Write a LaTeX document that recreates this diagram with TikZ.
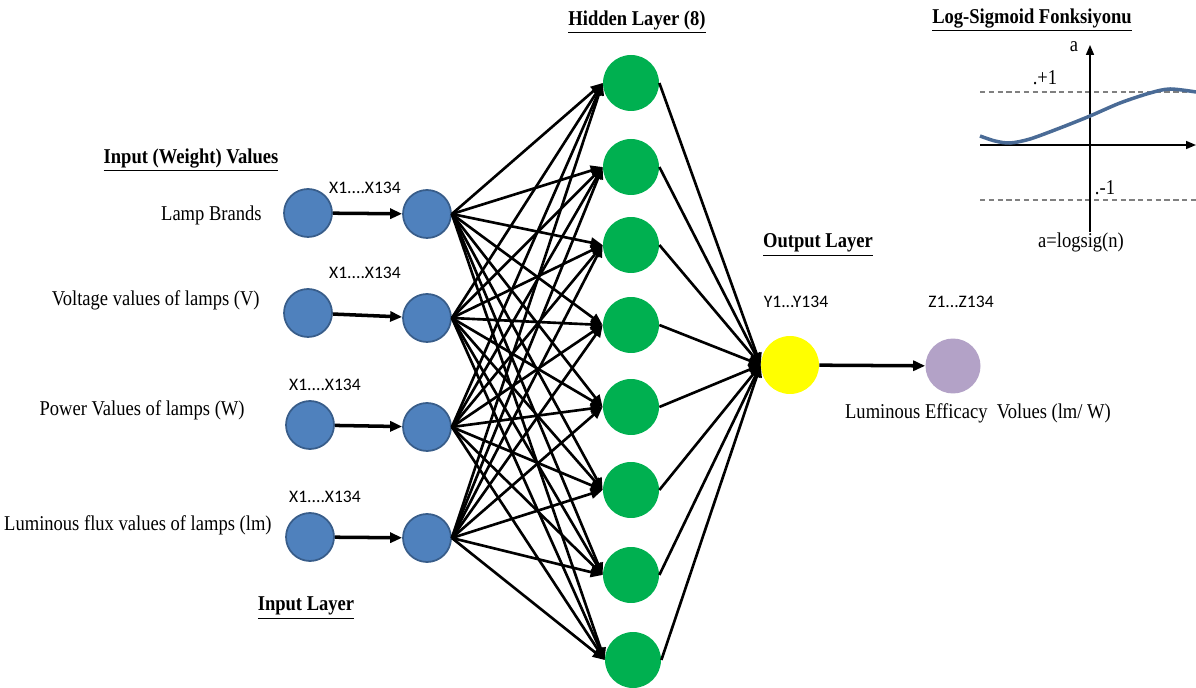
\documentclass[tikz,border=0pt]{standalone}
\usepackage{fontspec}
\setmainfont{Liberation Serif}[FakeStretch=0.88]
\newfontfamily\calib{Carlito}
\usetikzlibrary{arrows.meta}
\definecolor{inblue}{RGB}{79,129,189}
\definecolor{inrim}{RGB}{56,93,138}
\definecolor{hidgreen}{RGB}{0,176,80}
\definecolor{outyellow}{RGB}{255,255,0}
\definecolor{lilac}{RGB}{179,162,199}
\definecolor{curveblue}{RGB}{74,107,150}
\tikzset{
  innode/.style={circle, fill=inblue, draw=inrim, line width=1pt, minimum size=0.96cm, inner sep=0pt},
  hidnode/.style={circle, fill=hidgreen, minimum size=1.12cm, inner sep=0pt},
  link/.style={-{Triangle[length=0.24cm,width=0.2cm]}, line width=1.5pt},
  lbl/.style={font=\fontsize{12}{14}\selectfont},
  xlbl/.style={font=\calib\fontsize{10}{12}\selectfont},
  ttl/.style={font=\bfseries\fontsize{12}{14}\selectfont},
}
\begin{document}
\begin{tikzpicture}[x=0.02cm, y=-0.02cm]
\useasboundingbox (0,0) rectangle (1196,688);

% input columns
\node [innode] (a1) at (308,213) {};
\node [innode] (a2) at (308,313) {};
\node [innode] (a3) at (310,425) {};
\node [innode] (a4) at (310,537) {};
\node [innode] (b1) at (427,214) {};
\node [innode] (b2) at (427,318) {};
\node [innode] (b3) at (427,427) {};
\node [innode] (b4) at (427,538) {};

% hidden layer
\node [hidnode] (h1) at (631,83) {};
\node [hidnode] (h2) at (631,167) {};
\node [hidnode] (h3) at (631,245) {};
\node [hidnode] (h4) at (631,325) {};
\node [hidnode] (h5) at (631,407) {};
\node [hidnode] (h6) at (631,490) {};
\node [hidnode] (h7) at (631,575) {};
\node [hidnode] (h8) at (633,660) {};

% output
\node [circle, fill=outyellow, minimum size=1.16cm, inner sep=0pt] (y) at (790,365) {};
\node [circle, fill=lilac, minimum size=1.1cm, inner sep=0pt] (z) at (953,366) {};

\foreach \i in {1,...,4} {
  \draw [link, line width=2pt] (a\i) -- (b\i);
  \foreach \j in {1,...,8}
    \draw [link] (b\i.east) -- (h\j.west);
}
\foreach \j in {1,...,8}
  \draw [link] (h\j.east) -- (y.west);
\draw [link, line width=2pt] (y) -- (z);

% labels
\node [ttl] (t1) at (191,160) {\underline{Input (Weight) Values}};
\node [lbl, anchor=east, inner sep=0pt] (l1) at (262,215) {Lamp Brands};
\node [lbl, anchor=east, inner sep=0pt] (l2) at (260,300) {Voltage values of lamps (V)};
\node [lbl, anchor=east, inner sep=0pt] (l3) at (245,410) {Power Values of lamps (W)};
\node [lbl, anchor=east, inner sep=0pt] (l4) at (272,525) {Luminous flux values of lamps (lm)};
\node [ttl] (t2) at (306,608) {\underline{Input Layer}};
\node [xlbl] (x1) at (365,188) {X1....X134};
\node [xlbl] (x2) at (365,273) {X1....X134};
\node [xlbl] (x3) at (325,385) {X1....X134};
\node [xlbl] (x4) at (325,497) {X1....X134};
\node [ttl] (t3) at (637,22) {\underline{Hidden Layer (8)}};
\node [ttl] (t4) at (818,245) {\underline{Output Layer}};
\node [xlbl] (y1) at (796,302) {Y1...Y134};
\node [xlbl] (z1) at (961,302) {Z1...Z134};
\node [lbl] (l5) at (978,413) {Luminous Efficacy\ \ Volues (lm/ W)};

% log-sigmoid inset
\node [ttl] (t5) at (1032,20) {\underline{Log-Sigmoid Fonksiyonu}};
\draw [densely dashed, gray, line width=0.6pt] (980,92) -- (1196,92);
\draw [densely dashed, gray, line width=0.6pt] (980,200) -- (1196,200);
\draw [-{Triangle[length=0.2cm,width=0.16cm]}, line width=0.9pt] (980,145) -- (1196,145);
\draw [-{Triangle[length=0.2cm,width=0.16cm]}, line width=0.9pt] (1090,232) -- (1090,45);
\draw [curveblue, line width=2pt] plot [smooth] coordinates {(980,136) (995,141) (1010,143) (1030,139) (1060,128) (1090,116) (1120,103) (1150,93) (1170,89) (1196,92)};
\node [lbl] (s1) at (1074,47) {a};
\node [lbl] (s2) at (1045,78) {.+1};
\node [lbl] (s3) at (1105,188) {.-1};
\node [lbl] (s4) at (1081,242) {a=logsig(n)};
\end{tikzpicture}
\end{document}
